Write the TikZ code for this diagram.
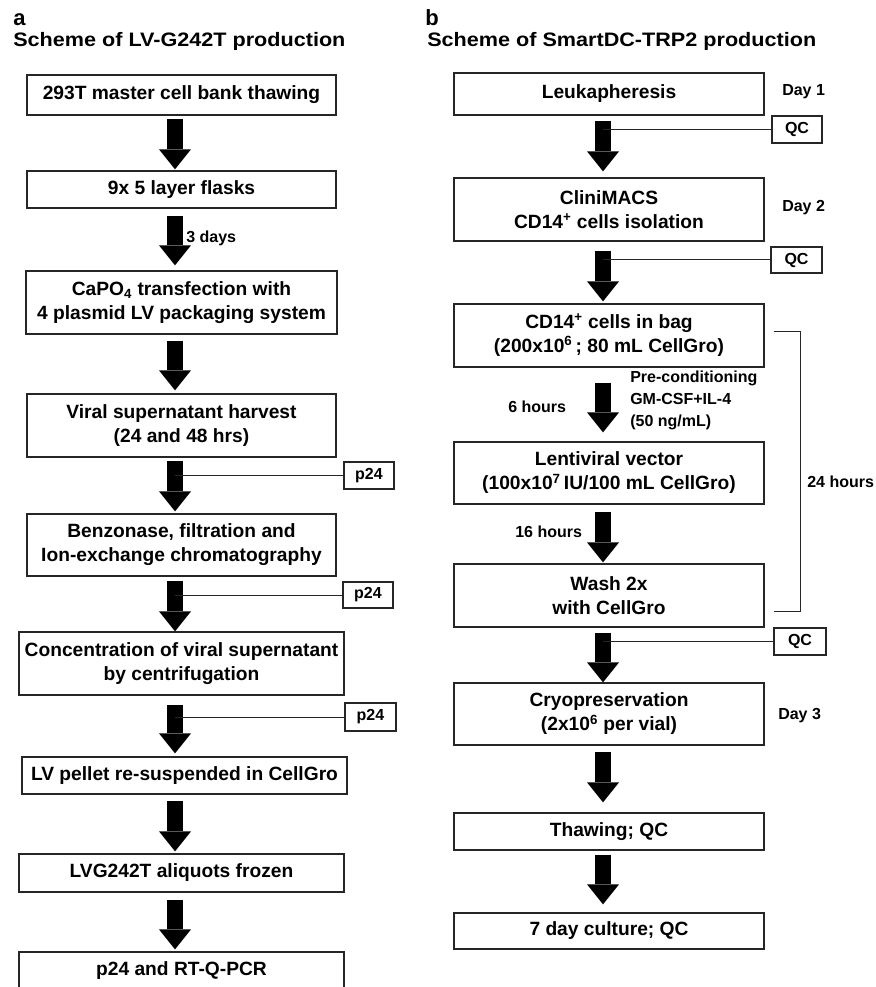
\documentclass[tikz,border=0pt]{standalone}
\usepackage{fontspec}
\usepackage{graphicx}
\setmainfont{Liberation Sans}
\usetikzlibrary{arrows.meta,calc}
\begin{document}
\begin{tikzpicture}[x=0.75pt,y=-0.75pt,
 wh/.style 2 args={minimum width=#1*0.75pt, minimum height=#2*0.75pt},
 box/.style={draw=black!85, line width=0.95pt, inner sep=0pt, align=center, font=\fontsize{14.4}{18}\selectfont\bfseries},
 tag/.style={draw=black!85, line width=0.95pt, inner sep=0pt, align=center, font=\fontsize{12}{14}\selectfont\bfseries},
 lbl/.style={inner sep=0pt, align=left, anchor=west, font=\fontsize{12}{16.5}\selectfont\bfseries},
 panel/.style={anchor=base west, inner sep=0pt, font=\fontsize{16.5}{20}\selectfont\bfseries},
 ttl/.style={anchor=base west, inner sep=0pt, font=\fontsize{14.6}{17}\selectfont\bfseries},
 bigarrow/.style={line width=12pt, -{Triangle[width=24pt,length=15pt,line width=0pt]}},
 thinline/.style={line width=0.75pt, draw=black!85}
]
\useasboundingbox (0,0) rectangle (875,987);

% ---------- panel a ----------
\node[panel] (la) at (13,26) {a};
\node[ttl] (ta) at (13,47) {\scalebox{1.11}[1]{Scheme of LV-G242T production}};

\node[box, wh={309}{40}] (a1) at (181.5,95) {293T master cell bank thawing};
\node[box, wh={309}{37}] (a2) at (181.5,189.5) {9x 5 layer flasks};
\node[box, wh={311}{63}] (a3) at (181.5,302.5) {CaPO\textsubscript{4} transfection with\\4 plasmid LV packaging system};
\node[box, wh={309}{63}] (a4) at (181.5,425.5) {Viral supernatant harvest\\(24 and 48 hrs)};
\node[box, wh={309}{62}] (a5) at (181.5,545) {Benzonase, filtration and\\Ion-exchange chromatography};
\node[box, wh={325}{63}] (a6) at (181.5,663.5) {Concentration of viral supernatant\\by centrifugation};
\node[box, wh={325}{37}] (a7) at (184.5,775.5) {LV pellet re-suspended in CellGro};
\node[box, wh={325}{38}] (a8) at (181.5,873) {LVG242T aliquots frozen};
\node[box, wh={325}{38}] (a9) at (181.5,971) {p24 and RT-Q-PCR};

\coordinate (ax) at (175,0);
\draw[bigarrow] ($(a1.south -| ax)+(0,3)$) -- ($(a2.north -| ax)+(0,-1)$);
\draw[bigarrow] ($(a2.south -| ax)+(0,7)$) -- ($(a3.north -| ax)+(0,-5)$);
\draw[bigarrow] ($(a3.south -| ax)+(0,6)$) -- ($(a4.north -| ax)+(0,-3)$);
\draw[bigarrow] ($(a4.south -| ax)+(0,3)$) -- ($(a5.north -| ax)+(0,-2)$);
\draw[bigarrow] ($(a5.south -| ax)+(0,4)$) -- ($(a6.north -| ax)+(0,0)$);
\draw[bigarrow] ($(a6.south -| ax)+(0,9)$) -- ($(a7.north -| ax)+(0,-3)$);
\draw[bigarrow] ($(a7.south -| ax)+(0,6)$) -- ($(a8.north -| ax)+(0,-2)$);
\draw[bigarrow] ($(a8.south -| ax)+(0,7)$) -- ($(a9.north -| ax)+(0,-2)$);

\node[lbl] (d3) at (186,238) {3 days};

\node[tag, wh={50}{27}] (p1) at (369,475.5) {p24};
\node[tag, wh={50}{26}] (p2) at (368,595) {p24};
\node[tag, wh={51}{28}] (p3) at (370.5,717) {p24};
\draw[thinline] (p1.west) -- (p1.west -| ax);
\draw[thinline] (p2.west) -- (p2.west -| ax);
\draw[thinline] (p3.west) -- (p3.west -| ax);

% ---------- panel b ----------
\node[panel] (lb) at (425,26) {b};
\node[ttl] (tb) at (427,47) {\scalebox{1.11}[1]{Scheme of SmartDC-TRP2 production}};

\node[box, wh={310}{42}] (b1) at (609,94) {Leukapheresis};
\node[box, wh={310}{63}] (b2) at (609,209.5) {CliniMACS\\CD14\textsuperscript{+} cells isolation};
\node[box, wh={310}{63}] (b3) at (609,335.5) {CD14\textsuperscript{+} cells in bag\\(200x10\textsuperscript{6}\,; 80 mL CellGro)};
\node[box, wh={310}{62}] (b4) at (609,473) {Lentiviral vector\\(100x10\textsuperscript{7}\,IU/100 mL CellGro)};
\node[box, wh={310}{63}] (b5) at (609,595.5) {Wash 2x\\with CellGro};
\node[box, wh={310}{62}] (b6) at (609,714) {Cryopreservation\\(2x10\textsuperscript{6} per vial)};
\node[box, wh={310}{37}] (b7) at (609,831.5) {Thawing; QC};
\node[box, wh={310}{36}] (b8) at (609,931) {7 day culture; QC};

\coordinate (bx) at (603,0);
\draw[bigarrow] ($(b1.south -| bx)+(0,5)$) -- ($(b2.north -| bx)+(0,-6)$);
\draw[bigarrow] ($(b2.south -| bx)+(0,9)$) -- ($(b3.north -| bx)+(0,-2)$);
\draw[bigarrow] ($(b3.south -| bx)+(0,15)$) -- ($(b4.north -| bx)+(0,-9)$);
\draw[bigarrow] ($(b4.south -| bx)+(0,7)$) -- ($(b5.north -| bx)+(0,-1)$);
\draw[bigarrow] ($(b5.south -| bx)+(0,5)$) -- ($(b6.north -| bx)+(0,0)$);
\draw[bigarrow] ($(b6.south -| bx)+(0,6)$) -- ($(b7.north -| bx)+(0,-10)$);
\draw[bigarrow] ($(b7.south -| bx)+(0,4)$) -- ($(b8.north -| bx)+(0,-8)$);

\node[tag, wh={50}{27}] (q1) at (797,129.5) {QC};
\node[tag, wh={51}{26}] (q2) at (796.5,260) {QC};
\node[tag, wh={52}{27}] (q3) at (800,641.5) {QC};
\draw[thinline] (q1.west) -- (q1.west -| bx);
\draw[thinline] (q2.west) -- (q2.west -| bx);
\draw[thinline] (q3.west) -- (q3.west -| bx);

\node[lbl] (day1) at (782,92) {Day 1};
\node[lbl] (day2) at (782,208) {Day 2};
\node[lbl] (day3) at (778,716) {Day 3};

\draw[thinline] ($(b3.east)+(9,-4.5)$) coordinate (brt) -- ++(27,0) coordinate (brc) |- ($(b5.east)+(9,15.5)$) coordinate (brb);
\node[lbl] (h24) at (807,482) {24 hours};

\node[lbl] (pre) at (630,400) {Pre-conditioning\\GM-CSF+IL-4\\(50 ng/mL)};
\node[lbl] (h6) at (508,407) {6 hours};
\node[lbl] (h16) at (515,532) {16 hours};
\end{tikzpicture}
\end{document}
